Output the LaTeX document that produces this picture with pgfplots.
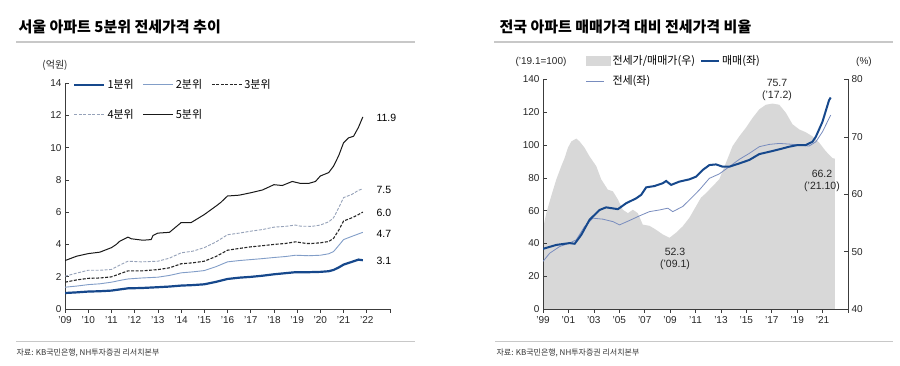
\documentclass[border=0pt]{standalone}
\usepackage{fontspec}
\setmainfont{Liberation Sans}
\newfontfamily\kr{Noto Sans CJK KR}
\usepackage{pgfplots}
\pgfplotsset{compat=1.18}
\definecolor{dblue}{RGB}{22,72,140}
\definecolor{lblue}{RGB}{130,158,200}
\definecolor{lgrey}{RGB}{150,162,185}
\definecolor{jblue}{RGB}{120,140,190}
\definecolor{areagray}{RGB}{216,216,216}
\definecolor{axgray}{RGB}{60,60,60}
\definecolor{rulegray}{RGB}{200,200,200}
\pgfplotsset{
  common/.style={
    scale only axis,
    axis line style={-, axgray, line width=0.7pt},
    every tick/.style={axgray, line width=0.6pt},
    major tick length=4pt,
    tick label style={font=\fontsize{10}{12}\selectfont, text=black!85},
    /pgf/number format/assume math mode=true,
    clip=true,
  }
}
\begin{document}
\begin{tikzpicture}[x=1pt,y=1pt]
\path[use as bounding box] (0,0) rectangle (900,366);
\fill[white] (0,0) rectangle (900,366);
% titles
\node[anchor=west, font=\kr\bfseries\fontsize{15}{17}\selectfont] at (15,339) {서울 아파트 5분위 전세가격 추이};
\node[anchor=west, font=\kr\bfseries\fontsize{15}{17}\selectfont] at (496,339) {전국 아파트 매매가격 대비 전세가격 비율};
\draw[rulegray, line width=1.2pt] (16,324) -- (415,324);
\draw[rulegray, line width=1.2pt] (494,324) -- (893,324);
\draw[rulegray, line width=0.9pt] (16,25) -- (415,25);
\draw[rulegray, line width=0.9pt] (495,25) -- (893,25);
\node[anchor=west, font=\kr\fontsize{8}{10}\selectfont, text=black!80] at (13,13) {자료: KB국민은행, NH투자증권 리서치본부};
\node[anchor=west, font=\kr\fontsize{8}{10}\selectfont, text=black!80] at (493,13) {자료: KB국민은행, NH투자증권 리서치본부};
% unit labels
\node[font=\kr\fontsize{10}{12}\selectfont, text=black!85] at (55,301) {(억원)};
\node[font=\fontsize{10}{12}\selectfont, text=black!85] at (541,304) {('19.1=100)};
\node[font=\fontsize{10}{12}\selectfont, text=black!85] at (864,304) {(\%)};

% ---------------- left chart ----------------
\begin{axis}[common,
  at={(65pt,57pt)}, anchor=south west,
  width=325pt, height=226pt,
  xmin=2009, xmax=2023, ymin=0, ymax=14,
  axis x line*=bottom, axis y line*=left,
  xtick={2009,2010,...,2023},
  xticklabels={'09,'10,'11,'12,'13,'14,'15,'16,'17,'18,'19,'20,'21,'22,},
  ytick={0,2,...,14},
  xtick align=outside, ytick align=inside,
  legend columns=3,
  legend cell align=left,
  legend style={draw=none, fill=none, at={(0.025,1.025)}, anchor=north west,
    font=\kr\fontsize{11}{12}\selectfont,
    /tikz/every even column/.append style={column sep=7pt},
    row sep=15pt, inner sep=0pt},
  legend image code/.code={\draw[#1] (0pt,0pt) -- (30pt,0pt);},
]
\addplot[dblue, line width=2.2pt] coordinates {
(2009.00,0.99)(2009.5,1.03)(2010.00,1.08)(2010.5,1.10)(2011.00,1.14)(2011.4,1.22)(2011.71,1.28)(2012.3,1.30)(2013.00,1.35)(2013.5,1.39)(2014.00,1.45)(2014.5,1.48)(2015.00,1.53)(2015.5,1.68)(2016.00,1.86)(2016.5,1.94)(2017.00,1.99)(2017.5,2.06)(2018.00,2.15)(2018.5,2.22)(2018.93,2.28)(2019.5,2.28)(2020.00,2.30)(2020.36,2.34)(2020.57,2.42)(2020.8,2.58)(2021.00,2.75)(2021.36,2.92)(2021.64,3.06)(2021.83,3.02)};
\addlegendentry{1분위}
\addplot[lblue, line width=0.9pt] coordinates {
(2009.00,1.35)(2009.5,1.42)(2010.00,1.51)(2010.5,1.56)(2011.00,1.66)(2011.4,1.78)(2011.71,1.86)(2012.3,1.92)(2013.00,1.97)(2013.5,2.08)(2014.00,2.24)(2014.5,2.30)(2015.00,2.38)(2015.5,2.62)(2016.00,2.92)(2016.5,3.00)(2017.00,3.06)(2017.5,3.12)(2018.00,3.19)(2018.5,3.25)(2018.93,3.33)(2019.5,3.30)(2020.00,3.33)(2020.36,3.42)(2020.57,3.56)(2020.8,3.95)(2021.00,4.30)(2021.36,4.50)(2021.64,4.65)(2021.83,4.75)};
\addlegendentry{2분위}
\addplot[black!85, line width=1.1pt, dash pattern=on 3pt off 1.5pt] coordinates {
(2009.00,1.66)(2009.5,1.80)(2010.00,1.90)(2010.5,1.92)(2011.00,1.99)(2011.4,2.20)(2011.71,2.36)(2012.3,2.36)(2013.00,2.44)(2013.5,2.55)(2014.00,2.80)(2014.5,2.86)(2015.00,2.96)(2015.5,3.25)(2016.00,3.64)(2016.5,3.75)(2017.00,3.85)(2017.5,3.92)(2018.00,4.00)(2018.5,4.06)(2018.93,4.16)(2019.4,4.06)(2019.64,4.06)(2020.00,4.10)(2020.36,4.18)(2020.57,4.38)(2020.8,4.90)(2021.00,5.45)(2021.36,5.65)(2021.64,5.85)(2021.83,6.00)};
\addlegendentry{3분위}
\addplot[lgrey, line width=0.9pt, dash pattern=on 3pt off 1.5pt] coordinates {
(2009.00,2.03)(2009.5,2.22)(2010.00,2.40)(2010.5,2.40)(2011.00,2.45)(2011.4,2.75)(2011.71,2.96)(2012.3,2.92)(2013.00,2.96)(2013.5,3.15)(2014.00,3.48)(2014.5,3.58)(2015.00,3.80)(2015.5,4.15)(2016.00,4.60)(2016.5,4.70)(2017.00,4.82)(2017.5,4.92)(2018.00,5.07)(2018.5,5.12)(2018.93,5.20)(2019.14,5.13)(2019.64,5.12)(2020.00,5.20)(2020.36,5.40)(2020.57,5.65)(2020.8,6.30)(2021.00,6.90)(2021.36,7.10)(2021.64,7.35)(2021.83,7.45)};
\addlegendentry{4분위}
\addplot[black!90, line width=1pt] coordinates {
(2009.00,3.0)(2009.50,3.27)(2010.00,3.43)(2010.50,3.52)(2011.00,3.8)(2011.21,4.0)(2011.36,4.2)(2011.71,4.45)(2011.86,4.35)(2012.36,4.26)(2012.71,4.3)(2012.79,4.55)(2013.00,4.7)(2013.50,4.75)(2014.00,5.35)(2014.43,5.35)(2015.00,5.85)(2015.50,6.37)(2015.71,6.6)(2016.00,7.0)(2016.50,7.05)(2017.00,7.2)(2017.50,7.37)(2018.00,7.7)(2018.36,7.65)(2018.79,7.9)(2019.14,7.78)(2019.50,7.78)(2019.79,7.9)(2020.00,8.24)(2020.36,8.45)(2020.57,8.85)(2020.79,9.5)(2021.00,10.3)(2021.21,10.6)(2021.43,10.7)(2021.64,11.25)(2021.83,11.9)};
\addlegendentry{5분위}
\end{axis}
\node[anchor=west, font=\fontsize{10.5}{12}\selectfont] at (373,248) {11.9};
\node[anchor=west, font=\fontsize{10.5}{12}\selectfont] at (373,176) {7.5};
\node[anchor=west, font=\fontsize{10.5}{12}\selectfont] at (373,153) {6.0};
\node[anchor=west, font=\fontsize{10.5}{12}\selectfont] at (373,132) {4.7};
\node[anchor=west, font=\fontsize{10.5}{12}\selectfont] at (373,105) {3.1};

% ---------------- right chart: ratio area ----------------
\begin{axis}[common,
  at={(543pt,57pt)}, anchor=south west,
  width=305pt, height=229.5pt,
  xmin=1999, xmax=2023, ymin=40, ymax=80,
  axis x line=none, axis y line*=right,
  ytick={40,50,...,80},
  ytick align=inside,
]
\addplot[fill=areagray, draw=none] coordinates {
(1999.00,40)(1999.00,54)(1999.26,56.7)(1999.65,59.7)(2000.05,62.6)(2000.44,64.9)(2000.70,66.3)(2000.96,68.1)(2001.23,69.2)(2001.62,69.7)(2001.88,69.2)(2002.27,68.1)(2002.66,66.6)(2003.19,64.9)(2003.58,62.6)(2004.10,60.8)(2004.50,60.5)(2004.89,59.1)(2005.28,57.3)(2005.68,56.7)(2006.07,57.3)(2006.46,56.7)(2006.85,54.7)(2007.38,54.5)(2007.90,53.8)(2008.42,53.0)(2008.95,52.4)(2009.47,53.3)(2009.99,54.4)(2010.52,55.9)(2011.04,57.9)(2011.43,59.4)(2011.83,60.2)(2012.35,61.4)(2012.87,62.6)(2013.40,65.5)(2013.92,68.4)(2014.45,70.1)(2014.97,71.6)(2015.49,73.3)(2016.02,74.8)(2016.54,75.6)(2017.06,75.8)(2017.59,75.6)(2018.11,74.2)(2018.63,72.2)(2019.16,71.3)(2019.68,70.8)(2020.20,70.1)(2020.73,69.0)(2021.25,67.5)(2021.77,66.3)(2021.96,66.2)(2021.96,40)} \closedcycle;
\end{axis}

% ---------------- right chart: index lines ----------------
\begin{axis}[common,
  at={(543pt,57pt)}, anchor=south west,
  width=305pt, height=229.5pt,
  xmin=1999, xmax=2023, ymin=0, ymax=140,
  axis x line*=bottom, axis y line*=left,
  xtick={1999,2001,...,2023},
  xticklabels={'99,'01,'03,'05,'07,'09,'11,'13,'15,'17,'19,'21,},
  ytick={0,20,...,140},
  xtick align=outside, ytick align=inside,
  legend columns=2,
  legend cell align=left,
  legend style={draw=none, fill=none, at={(0.14,1.115)}, anchor=north west,
    font=\kr\fontsize{11}{12}\selectfont,
    /tikz/every even column/.append style={column sep=3pt},
    row sep=6pt, inner sep=0pt},
  legend image code/.code={\draw[#1] (0pt,0pt) -- (18pt,0pt);},
]
\addlegendimage{legend image code/.code={\fill[areagray] (0pt,-4.5pt) rectangle (24pt,4.5pt);}}
\addlegendentry{전세가/매매가(우)}
\addplot[jblue, line width=0.8pt, forget plot] coordinates {
(1999.00,29)(1999.52,34)(2000.31,38.1)(2001.09,40.2)(2001.62,42.2)(2002.27,50.3)(2002.93,55.4)(2003.71,54.8)(2004.50,53.3)(2005.02,51.3)(2005.81,54)(2006.59,56.8)(2007.38,59.4)(2008.16,60.4)(2008.82,61.5)(2009.21,59.4)(2009.99,62.5)(2010.52,66.5)(2011.30,72.6)(2012.09,79.7)(2012.87,82.4)(2013.66,86.8)(2014.45,91.3)(2015.23,94.9)(2016.02,99)(2016.80,100.4)(2017.59,101)(2018.37,100.6)(2019.16,100)(2019.94,99.4)(2020.47,102)(2020.99,108.1)(2021.64,118.3)};
\addplot[dblue, line width=2pt] coordinates {
(1999.00,36.7)(2000.05,39.1)(2001.09,40.2)(2001.49,39.8)(2002.01,45.2)(2002.66,54.4)(2003.45,60.4)(2003.97,62)(2004.89,60.9)(2005.54,64.5)(2006.33,67.5)(2006.72,69.6)(2007.12,74.2)(2007.77,75)(2008.42,76.7)(2008.69,78.1)(2009.08,75.7)(2009.73,77.7)(2010.52,79.1)(2011.04,80.7)(2011.57,84.8)(2012.09,87.8)(2012.61,88.2)(2013.14,86.8)(2013.66,86.8)(2014.45,88.8)(2015.23,90.9)(2016.02,94.5)(2016.80,95.9)(2017.59,97.4)(2018.37,99)(2019.03,100)(2019.68,100)(2020.20,102)(2020.47,105.1)(2020.99,114.2)(2021.51,127.4)(2021.64,129)};
\addlegendentry{매매(좌)}
\addlegendimage{jblue, line width=0.8pt}
\addlegendentry{전세(좌)}
\end{axis}
\node[font=\fontsize{10.5}{12}\selectfont, align=center, text=black!85] at (777,276) {75.7\\('17.2)};
\node[font=\fontsize{10.5}{12}\selectfont, align=center, text=black!85] at (675,107) {52.3\\('09.1)};
\node[font=\fontsize{10.5}{12}\selectfont, align=center, text=black!85] at (822,185) {66.2\\('21.10)};
\end{tikzpicture}
\end{document}
